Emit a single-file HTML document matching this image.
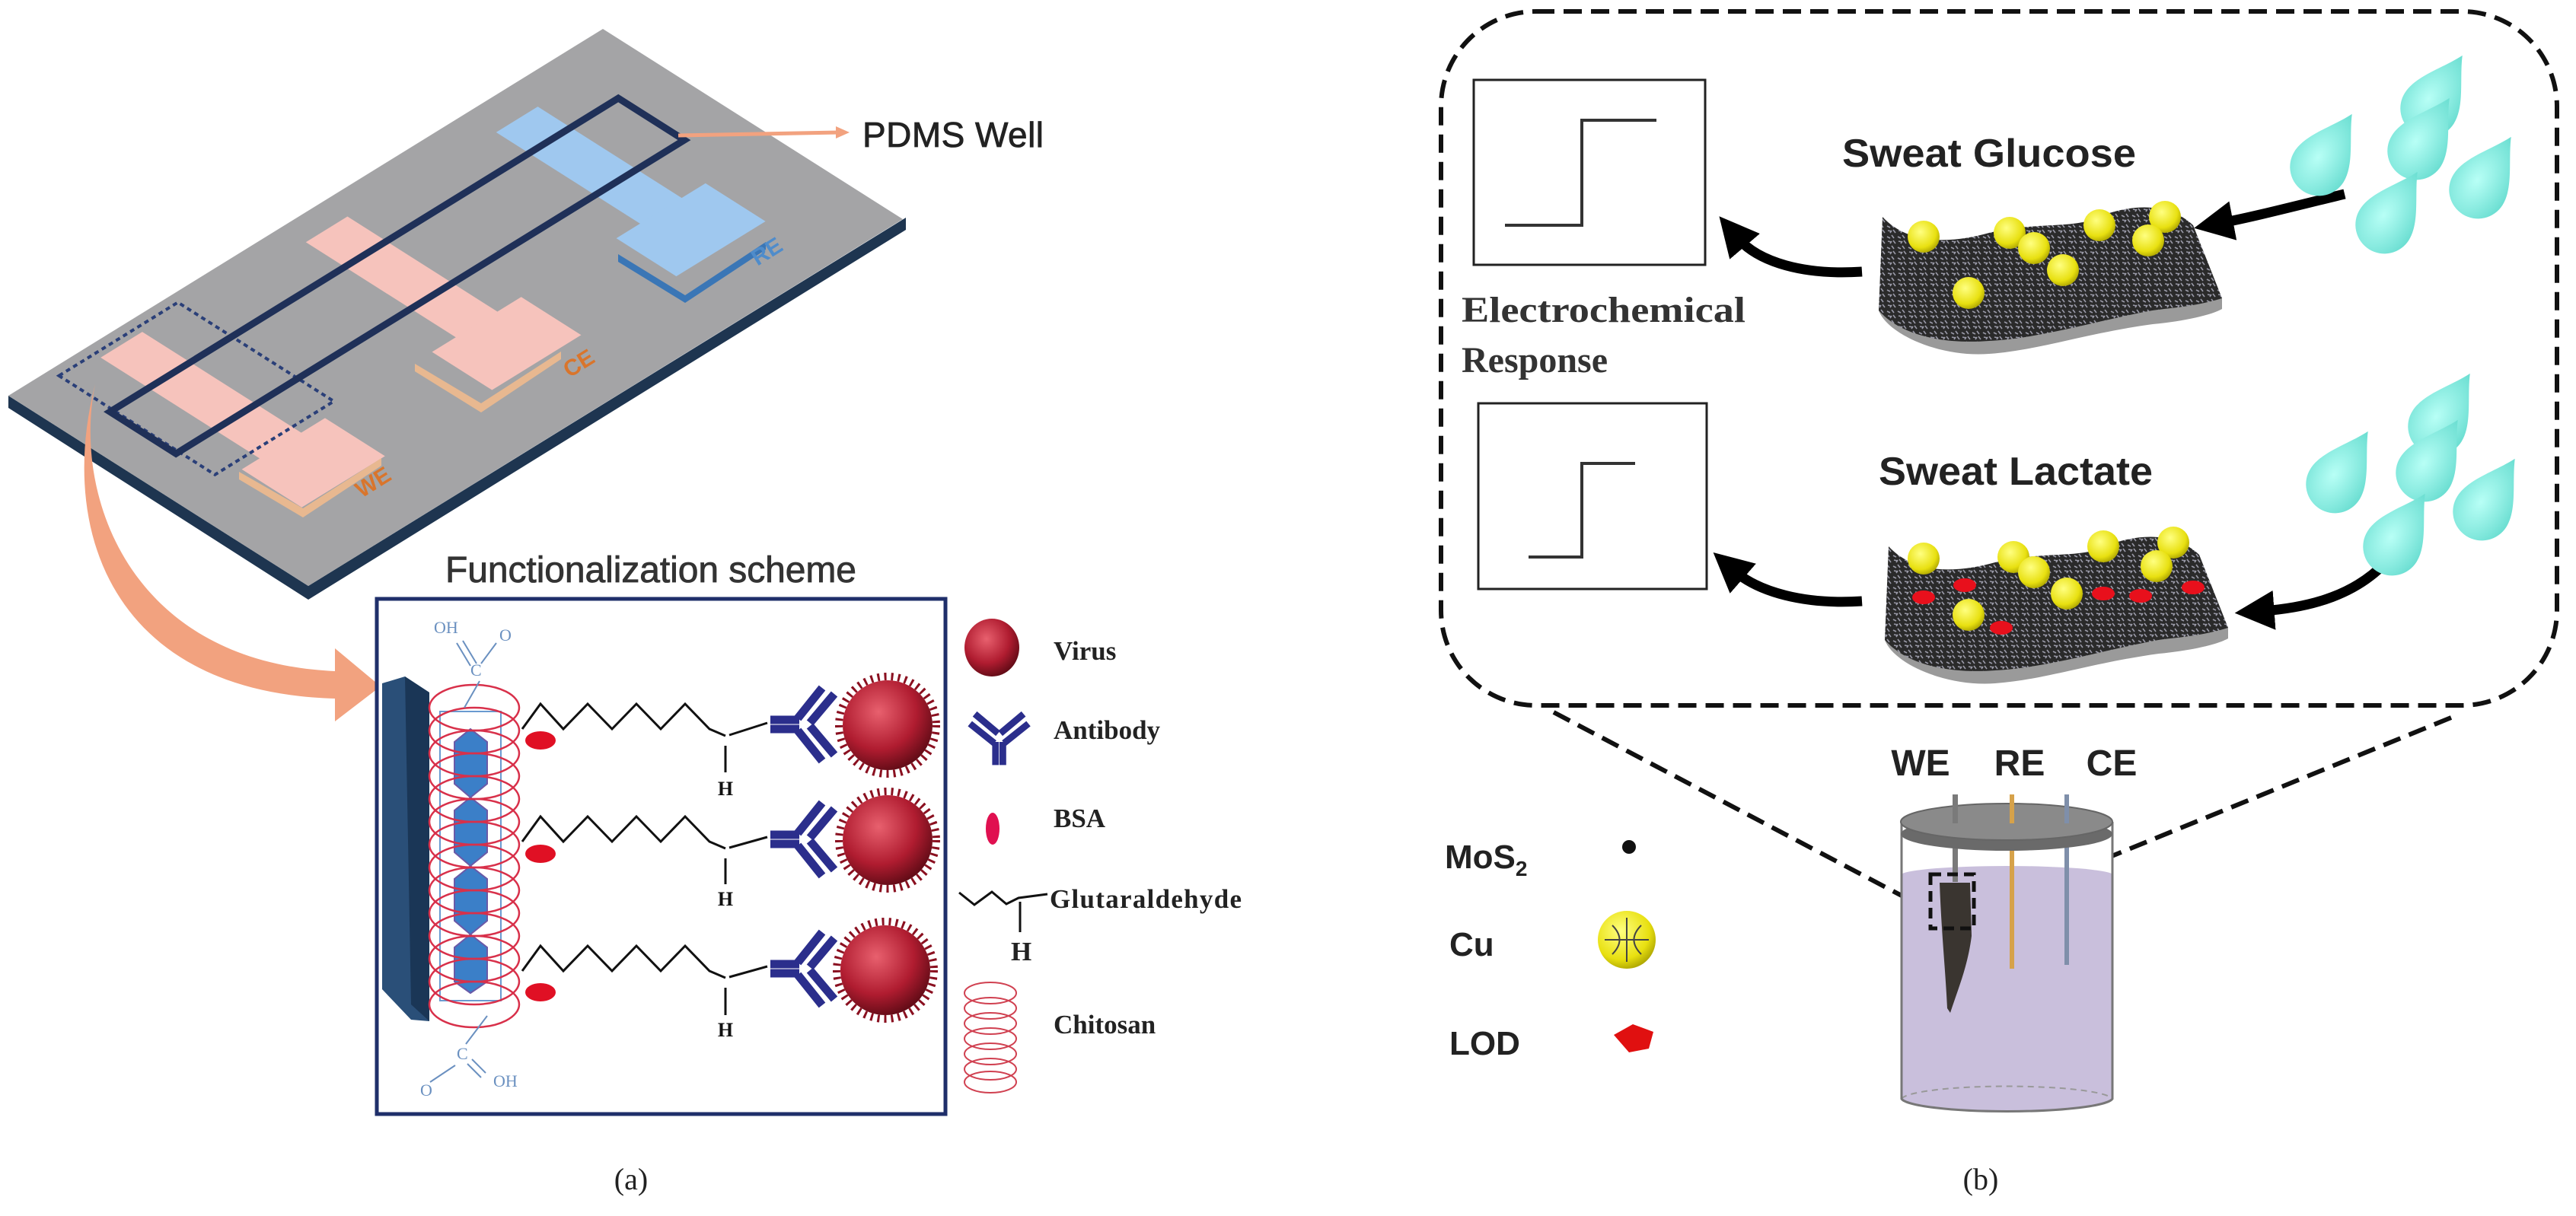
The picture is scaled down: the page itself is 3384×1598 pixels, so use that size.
<!DOCTYPE html>
<html><head><meta charset="utf-8"><style>
html,body{margin:0;padding:0;background:#fff;}
svg{display:block;}
.sans{font-family:"Liberation Sans",sans-serif;font-weight:bold;}
.serif{font-family:"Liberation Serif",serif;font-weight:bold;}
</style></head><body>
<svg width="3384" height="1598" viewBox="0 0 3384 1598" xmlns="http://www.w3.org/2000/svg">
<defs>
<radialGradient id="vir" cx="0.4" cy="0.35" r="0.7"><stop offset="0" stop-color="#e8606e"/><stop offset="0.6" stop-color="#b01c30"/><stop offset="1" stop-color="#5a0a14"/></radialGradient>
<radialGradient id="cu" cx="0.4" cy="0.35" r="0.7"><stop offset="0" stop-color="#ffff80"/><stop offset="0.7" stop-color="#e8e010"/><stop offset="1" stop-color="#a8a000"/></radialGradient>
<radialGradient id="drop" cx="0.4" cy="0.6" r="0.7"><stop offset="0" stop-color="#b8fff6"/><stop offset="1" stop-color="#5fd9cc"/></radialGradient>
<pattern id="tex" width="14" height="14" patternUnits="userSpaceOnUse"><rect width="14" height="14" fill="#2a2a2a"/><path d="M1,3 l4,2 M7,1 l3,4 M2,9 l5,1 M9,8 l3,4 M5,12 l2,-3" stroke="#9a9aa8" stroke-width="1.6"/></pattern>
<marker id="ah" markerWidth="4" markerHeight="4" refX="1.2" refY="2" orient="auto" markerUnits="strokeWidth"><path d="M0,0 L4,2 L0,4 Z" fill="#000"/></marker>
<g id="drp"><path d="M0,-58 C13,-30 38,-3 38,24 A38,38 0 0 1 -38,24 C-38,-3 -13,-30 0,-58Z" fill="url(#drop)"/></g>
<g id="ab" stroke="#2b2e8c" stroke-width="11" fill="none">
<line x1="-38" y1="-4" x2="0" y2="-4"/><line x1="-38" y1="8" x2="0" y2="8"/><line x1="-2" y1="-6" x2="30" y2="-46"/><line x1="14" y1="0" x2="46" y2="-38"/><line x1="-2" y1="10" x2="30" y2="50"/><line x1="14" y1="4" x2="46" y2="42"/></g>
<g id="vr"><circle r="64" fill="none" stroke="#8a1020" stroke-width="10" stroke-dasharray="3 6"/><circle r="59" fill="url(#vir)"/></g>
<g id="cuB"><circle r="21" fill="url(#cu)"/></g>
</defs>

<!-- ========== LEFT PANEL ========== -->
<polygon points="11,520 405,770 1190,286 1190,302 405,788 11,536" fill="#1e3550"/>
<g transform="matrix(781,-482,394,250,11,520)">
<polygon points="0,0 1,0 1,1 0,1" fill="#a4a4a6"/>
<rect x="0.77" y="0.1" width="0.07" height="0.5" fill="#9fc8ef"/>
<rect x="0.73" y="0.58" width="0.15" height="0.2" fill="#9fc8ef"/>
<rect x="0.46" y="0.08" width="0.07" height="0.52" fill="#f6c3bc"/>
<rect x="0.42" y="0.58" width="0.15" height="0.2" fill="#f6c3bc"/>
<rect x="0.13" y="0.05" width="0.07" height="0.55" fill="#f6c3bc"/>
<rect x="0.10" y="0.58" width="0.14" height="0.2" fill="#f6c3bc"/>
<rect x="0.07" y="0.03" width="0.2" height="0.52" fill="none" stroke="#2a3f78" stroke-width="4" stroke-dasharray="6 5" vector-effect="non-scaling-stroke"/>
<rect x="0.065" y="0.21" width="0.855" height="0.22" fill="none" stroke="#1f3058" stroke-width="9" vector-effect="non-scaling-stroke"/>
</g>
<polygon points="314,620 398,668 501,602 501,612 398,680 314,630" fill="#e8b890"/>
<polygon points="545,478 632,530 737,462 737,472 632,542 545,488" fill="#e8b890"/>
<polygon points="812,334 900,388 1006,318 1006,328 900,398 812,344" fill="#3a76b6"/>
<text x="475" y="655" class="sans" font-size="30" fill="#d9752c" transform="rotate(-32 475 655)">WE</text>
<text x="748" y="497" class="sans" font-size="30" fill="#d9752c" transform="rotate(-32 748 497)">CE</text>
<text x="995" y="350" class="sans" font-size="30" fill="#4f8ccb" transform="rotate(-32 995 350)">RE</text>
<line x1="891" y1="178" x2="1102" y2="174" stroke="#f2a27f" stroke-width="5"/>
<polygon points="1098,166 1116,174 1098,182" fill="#f2a27f"/>
<text x="1133" y="193" font-family="Liberation Sans,sans-serif" font-size="46" fill="#222" stroke="#222" stroke-width="0.8" textLength="238">PDMS Well</text>
<path d="M125,505 C95,650 170,870 440,882 L440,852 L500,902 L440,948 L440,918 C150,910 75,700 125,505Z" fill="#f2a27f"/>
<text x="585" y="765" font-family="Liberation Sans,sans-serif" font-size="48" fill="#333" stroke="#333" stroke-width="0.8" textLength="540">Functionalization scheme</text>
<rect x="495" y="787" width="747" height="677" fill="#fff" stroke="#1f2f6a" stroke-width="5"/>
<polygon points="502,898 532,889 564,910 564,1342 540,1340 502,1300" fill="#2a4f78"/>
<polygon points="532,889 564,910 564,1342 540,1320" fill="#1a3656"/>
<g fill="#3b7fc8" stroke="#6a5aa8" stroke-width="2">
<polygon points="618,958 640,975 640,1030 618,1048 597,1030 597,975"/>
<polygon points="618,1048 640,1065 640,1120 618,1138 597,1120 597,1065"/>
<polygon points="618,1138 640,1155 640,1210 618,1228 597,1210 597,1155"/>
<polygon points="618,1228 640,1245 640,1290 618,1305 597,1290 597,1245"/>
</g>
<rect x="578" y="935" width="80" height="380" fill="none" stroke="#6a9ad0" stroke-width="2"/>
<g fill="none" stroke="#d8304a" stroke-width="2.5">
<ellipse cx="623" cy="930" rx="59" ry="30"/><ellipse cx="623" cy="960" rx="59" ry="30"/><ellipse cx="623" cy="990" rx="59" ry="30"/><ellipse cx="623" cy="1020" rx="59" ry="30"/><ellipse cx="623" cy="1050" rx="59" ry="30"/><ellipse cx="623" cy="1080" rx="59" ry="30"/><ellipse cx="623" cy="1110" rx="59" ry="30"/><ellipse cx="623" cy="1140" rx="59" ry="30"/><ellipse cx="623" cy="1170" rx="59" ry="30"/><ellipse cx="623" cy="1200" rx="59" ry="30"/><ellipse cx="623" cy="1230" rx="59" ry="30"/><ellipse cx="623" cy="1260" rx="59" ry="30"/><ellipse cx="623" cy="1290" rx="59" ry="30"/><ellipse cx="623" cy="1320" rx="59" ry="30"/>
</g>
<g font-family="Liberation Serif,serif" font-size="22" fill="#6a90c0">
<text x="570" y="832">OH</text><text x="656" y="842">O</text><text x="618" y="888">C</text>
<text x="552" y="1440">O</text><text x="648" y="1428">OH</text><text x="600" y="1392">C</text>
</g>
<g stroke="#6a90c0" stroke-width="2" fill="none"><path d="M600,845 L618,875 M608,842 L626,872 M652,845 L632,872 M630,895 L610,930"/><path d="M640,1335 L612,1372 M598,1400 L565,1422 M614,1398 L632,1416 M620,1392 L638,1410"/></g>
<g fill="none" stroke="#111" stroke-width="3">
<polyline points="686,958 710,925 740,958 772,925 804,958 836,925 868,958 900,925 932,958 953,967"/>
<polyline points="686,1106 710,1073 740,1106 772,1073 804,1106 836,1073 868,1106 900,1073 932,1106 953,1115"/>
<polyline points="686,1276 710,1243 740,1276 772,1243 804,1276 836,1243 868,1276 900,1243 932,1276 953,1285"/>
<path d="M958,966 L1008,950 M953,980 L953,1015 M958,1114 L1008,1100 M953,1128 L953,1162 M958,1284 L1008,1270 M953,1298 L953,1334"/>
</g>
<g font-family="Liberation Serif,serif" font-weight="bold" font-size="26" fill="#111" text-anchor="middle">
<text x="953" y="1045">H</text><text x="953" y="1190">H</text><text x="953" y="1362">H</text></g>
<g fill="#e01024"><ellipse cx="710" cy="973" rx="20" ry="12"/><ellipse cx="710" cy="1122" rx="20" ry="12"/><ellipse cx="710" cy="1304" rx="20" ry="12"/></g>
<use href="#ab" x="1050" y="950"/><use href="#ab" x="1050" y="1101"/><use href="#ab" x="1050" y="1271"/>
<use href="#vr" x="1166" y="953"/><use href="#vr" x="1166" y="1104"/><use href="#vr" x="1163" y="1275"/>
<ellipse cx="1303" cy="851" rx="36" ry="38" fill="url(#vir)"/>
<g transform="translate(1311,975) rotate(-90) scale(0.8)"><use href="#ab"/></g>
<ellipse cx="1304" cy="1089" rx="9" ry="21" fill="#e01050"/>
<polyline points="1260,1173 1280,1189 1303,1172 1322,1188 1338,1180 1376,1175" fill="none" stroke="#111" stroke-width="3"/>
<path d="M1340,1185 L1340,1225" stroke="#111" stroke-width="3"/>
<g fill="none" stroke="#d04050" stroke-width="2"><ellipse cx="1301" cy="1305" rx="34" ry="14"/><ellipse cx="1301" cy="1325" rx="34" ry="14"/><ellipse cx="1301" cy="1345" rx="34" ry="14"/><ellipse cx="1301" cy="1365" rx="34" ry="14"/><ellipse cx="1301" cy="1385" rx="34" ry="14"/><ellipse cx="1301" cy="1405" rx="34" ry="14"/><ellipse cx="1301" cy="1422" rx="34" ry="14"/></g>
<g class="serif" font-size="35" fill="#222">
<text x="1384" y="867">Virus</text><text x="1384" y="971">Antibody</text><text x="1384" y="1087">BSA</text><text x="1379" y="1193" textLength="252">Glutaraldehyde</text><text x="1328" y="1262">H</text><text x="1384" y="1358">Chitosan</text></g>
<text x="829" y="1563" font-family="Liberation Serif,serif" font-size="40" fill="#222" text-anchor="middle">(a)</text>

<!-- ========== RIGHT PANEL ========== -->
<rect x="1893" y="15" width="1466" height="912" rx="125" fill="none" stroke="#111" stroke-width="6" stroke-dasharray="24 12"/>
<line x1="2041" y1="936" x2="2536" y2="1197" stroke="#111" stroke-width="6" stroke-dasharray="24 12"/>
<line x1="3220" y1="943" x2="2593" y2="1199" stroke="#111" stroke-width="6" stroke-dasharray="24 12"/>
<rect x="1936" y="105" width="304" height="243" fill="none" stroke="#222" stroke-width="3"/>
<polyline points="1977,296 2078,296 2078,158 2176,158" fill="none" stroke="#333" stroke-width="4"/>
<rect x="1942" y="530" width="300" height="244" fill="none" stroke="#222" stroke-width="3"/>
<polyline points="2008,732 2078,732 2078,609 2148,609" fill="none" stroke="#333" stroke-width="4"/>
<g class="serif" font-size="48" fill="#333"><text x="1920" y="423" textLength="373" lengthAdjust="spacingAndGlyphs">Electrochemical</text><text x="1920" y="489">Response</text></g>
<g class="sans" font-size="52" fill="#222"><text x="2420" y="219" textLength="386" lengthAdjust="spacingAndGlyphs">Sweat Glucose</text><text x="2468" y="637" textLength="360" lengthAdjust="spacingAndGlyphs">Sweat Lactate</text></g>
<g fill="none" stroke="#000" stroke-width="13" marker-end="url(#ah)">
<path d="M2446,357 C2370,362 2310,345 2282,312"/>
<path d="M2446,790 C2370,795 2310,778 2278,750"/>
<path d="M3080,255 C3010,272 2960,285 2918,293"/>
<path d="M3134,739 C3095,780 3040,798 2972,803"/>
</g>
<g id="film">
<path d="M2468,408 C2480,440 2550,470 2613,465 C2680,460 2740,438 2828,426 C2870,422 2905,414 2919,406 L2919,392 L2828,408 L2720,428 L2613,448 L2516,438 Z" fill="#9a9a9a"/>
<path d="M2473,285 C2510,325 2570,318 2613,306 C2670,292 2720,300 2750,288 C2790,270 2845,262 2881,296 L2919,392 C2880,404 2845,405 2828,408 C2760,420 2680,445 2613,448 C2560,452 2500,444 2468,408 Z" fill="url(#tex)"/>
</g>
<use href="#film" x="8" y="433"/>
<g>
<use href="#cuB" x="2527" y="311"/><use href="#cuB" x="2640" y="306"/><use href="#cuB" x="2672" y="326"/><use href="#cuB" x="2758" y="296"/><use href="#cuB" x="2844" y="285"/><use href="#cuB" x="2822" y="316"/><use href="#cuB" x="2710" y="355"/><use href="#cuB" x="2586" y="385"/>
<use href="#cuB" x="2527" y="734"/><use href="#cuB" x="2645" y="732"/><use href="#cuB" x="2672" y="752"/><use href="#cuB" x="2763" y="718"/><use href="#cuB" x="2855" y="713"/><use href="#cuB" x="2833" y="744"/><use href="#cuB" x="2715" y="780"/><use href="#cuB" x="2586" y="808"/>
</g>
<g fill="#e8101c"><ellipse cx="2527" cy="785" rx="15" ry="9"/><ellipse cx="2581" cy="769" rx="15" ry="9"/><ellipse cx="2763" cy="780" rx="15" ry="9"/><ellipse cx="2812" cy="783" rx="15" ry="9"/><ellipse cx="2881" cy="772" rx="15" ry="9"/><ellipse cx="2629" cy="825" rx="15" ry="9"/></g>
<g>
<use href="#drp" transform="translate(3204,122) rotate(32)"/><use href="#drp" transform="translate(3059,199) rotate(32)"/><use href="#drp" transform="translate(3187,178) rotate(32)"/><use href="#drp" transform="translate(3268,229) rotate(32)"/><use href="#drp" transform="translate(3145,275) rotate(32)"/>
<use href="#drp" transform="translate(3214,540) rotate(32)"/><use href="#drp" transform="translate(3080,616) rotate(32)"/><use href="#drp" transform="translate(3198,601) rotate(32)"/><use href="#drp" transform="translate(3273,652) rotate(32)"/><use href="#drp" transform="translate(3155,698) rotate(32)"/>
</g>
<g class="sans" font-size="44" fill="#222"><text x="1898" y="1141">MoS<tspan font-size="28" dy="10">2</tspan></text><text x="1904" y="1256">Cu</text><text x="1904" y="1386">LOD</text></g>
<circle cx="2140" cy="1113" r="9" fill="#111"/>
<circle cx="2137" cy="1235" r="38" fill="url(#cu)"/>
<path d="M2108,1235 h58 M2137,1206 v58 M2118,1216 q19,19 0,38 M2156,1216 q-19,19 0,38" stroke="#444" stroke-width="2" fill="none"/>
<polygon points="2120,1360 2145,1346 2172,1356 2166,1378 2140,1383" fill="#e01010"/>
<g class="sans" font-size="48" fill="#222" text-anchor="middle"><text x="2523" y="1019">WE</text><text x="2653" y="1019">RE</text><text x="2774" y="1019">CE</text></g>
<path d="M2498,1080 L2498,1444 A139,18 0 0 0 2775,1444 L2775,1080" fill="#fff"/>
<path d="M2498,1149 A139,12 0 0 1 2775,1149 L2775,1444 A139,18 0 0 1 2498,1444 Z" fill="#c9bfdc"/>
<path d="M2498,1444 A139,18 0 0 1 2775,1444" fill="none" stroke="#999" stroke-width="2" stroke-dasharray="8 6"/>
<path d="M2498,1080 L2498,1444 A139,18 0 0 0 2775,1444 L2775,1080" fill="none" stroke="#777" stroke-width="3"/>
<rect x="2565" y="1044" width="7" height="115" fill="#7a7a7a"/>
<rect x="2640" y="1044" width="6" height="229" fill="#d6a24a"/>
<rect x="2712" y="1044" width="6" height="224" fill="#7f8faa"/>
<ellipse cx="2636" cy="1096" rx="139" ry="22" fill="#6a6a6a"/>
<ellipse cx="2636" cy="1080" rx="139" ry="24" fill="#8a8a8a" stroke="#666" stroke-width="2"/>
<rect x="2565" y="1044" width="7" height="38" fill="#7a7a7a"/><rect x="2640" y="1044" width="6" height="38" fill="#d6a24a"/><rect x="2712" y="1044" width="6" height="38" fill="#7f8faa"/>
<path d="M2548,1160 L2588,1160 L2590,1230 C2585,1270 2572,1300 2562,1331 L2558,1325 C2556,1280 2550,1220 2548,1160Z" fill="#3a3530"/>
<rect x="2536" y="1149" width="57" height="71" fill="none" stroke="#111" stroke-width="5" stroke-dasharray="14 8"/>
<text x="2602" y="1563" font-family="Liberation Serif,serif" font-size="40" fill="#222" text-anchor="middle">(b)</text>
</svg>
</body></html>
